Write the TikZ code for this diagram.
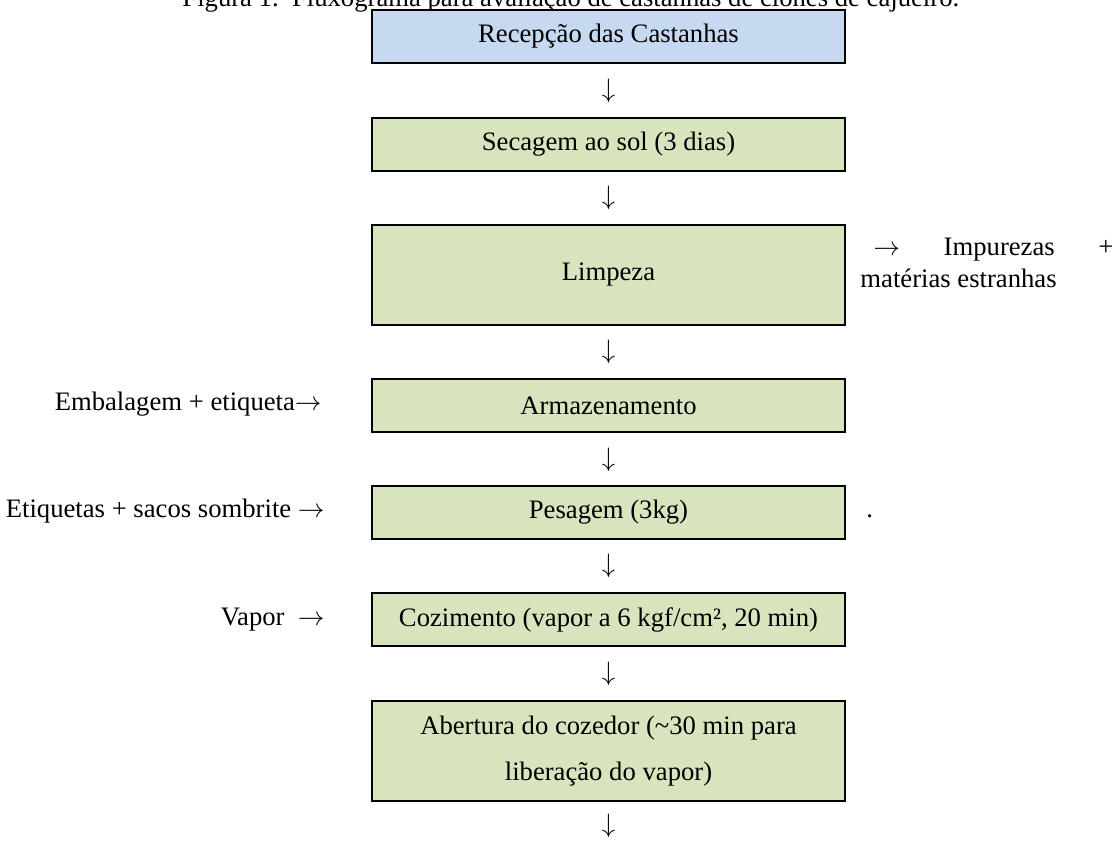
\documentclass[tikz,border=0pt]{standalone}
\usepackage{fontspec}
\setmainfont{Liberation Serif}
\definecolor{recblue}{HTML}{C6D9F0}
\definecolor{stagegreen}{HTML}{D7E4BD}
\tikzset{
  stagebox/.style={draw=black, line width=0.9pt, fill=stagegreen, minimum width=212.85pt, minimum height=23.85pt, inner sep=0pt, align=center, font=\fontsize{12}{20.5}\selectfont},
  startbox/.style={stagebox, fill=recblue},
  tallbox/.style={stagebox, minimum height=45pt},
  downarrow/.style={inner sep=0pt, font=\fontsize{12}{14}\selectfont},
  sidelabel/.style={inner sep=0pt, font=\fontsize{12}{14}\selectfont},
}
\begin{document}
\begin{tikzpicture}[x=0.45pt, y=-0.45pt]
\useasboundingbox (0,0) rectangle (1113,847);
\node[sidelabel, anchor=base west] (caption) at (182,7) {Figura 1.\ \ Fluxograma para avaliação de castanhas de clones de cajueiro.};
\node[startbox] (rec) at (608.5,36.5) {Recepção das Castanhas};
\node[downarrow] (d1) at (608.5,90.5) {$\downarrow$};
\node[stagebox] (sec) at (608.5,144.5) {Secagem ao sol (3 dias)};
\node[downarrow] (d2) at (608.5,198) {$\downarrow$};
\node[tallbox] (lim) at (608.5,275) {Limpeza};
\node[sidelabel, anchor=base west] (imp1) at (860,256) {\makebox[113.85pt][l]{\hspace{5.85pt}$\rightarrow$\hfill Impurezas\hfill +}};
\node[sidelabel, anchor=base west] (imp2) at (860,288) {matérias estranhas};
\node[downarrow] (d3) at (608.5,351.5) {$\downarrow$};
\node[stagebox] (arm) at (608.5,405.5) {Armazenamento};
\node[sidelabel, anchor=base east] (emb) at (322,411) {Embalagem + etiqueta$\rightarrow$};
\node[downarrow] (d4) at (608.5,459.5) {$\downarrow$};
\node[stagebox] (pes) at (608.5,512.5) {Pesagem (3kg)};
\node[sidelabel, anchor=base east] (eti) at (325,518) {Etiquetas + sacos sombrite $\rightarrow$};
\node[sidelabel, anchor=base west] (dot) at (866,518) {.};
\node[downarrow] (d5) at (608.5,566) {$\downarrow$};
\node[stagebox] (coz) at (608.5,620) {Cozimento (vapor a 6 kgf/cm², 20 min)};
\node[sidelabel, anchor=base east] (vap) at (325,626) {Vapor\ \ $\rightarrow$};
\node[downarrow] (d6) at (608.5,674) {$\downarrow$};
\node[tallbox] (abe) at (608.5,751) {Abertura do cozedor (\textasciitilde30 min para\\liberação do vapor)};
\node[downarrow] (d7) at (608.5,826) {$\downarrow$};
\end{tikzpicture}
\end{document}
